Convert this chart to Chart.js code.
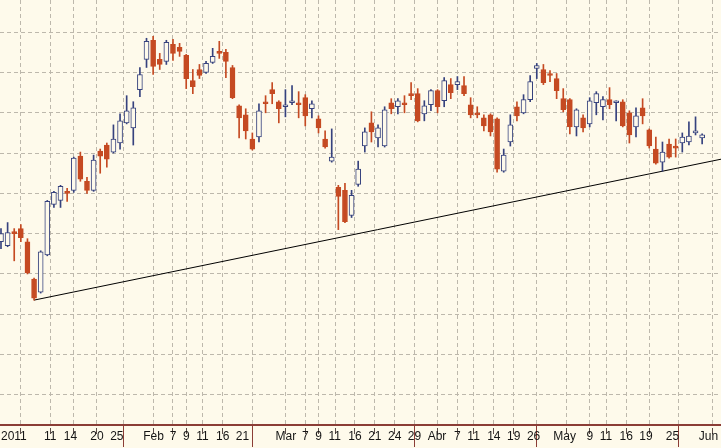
<!DOCTYPE html>
<html>
<head>
<meta charset="utf-8">
<script src="https://cdn.jsdelivr.net/npm/chart.js@4.4.1/dist/chart.umd.min.js"></script>
<style>
  html, body { margin: 0; padding: 0; background: #fefaeb; }
  canvas { display: block; }
</style>
</head>
<body>
<canvas id="stockChart" width="721" height="448"></canvas>
<script>
// daily candles, 3 Jan 2011 -> 2 Jun 2011
const openPrice = [
  8.72, 8.68, 8.81, 8.85, 8.72, 8.35, 8.22, 8.59, 9.09, 9.13,
  9.21, 9.23, 9.57, 9.32, 9.23, 9.62, 9.68, 9.61, 9.70, 9.90,
  9.85, 10.23, 10.53, 10.72, 10.53, 10.51, 10.68, 10.65, 10.57, 10.32,
  10.43, 10.40, 10.50, 10.61, 10.60, 10.45, 10.07, 9.98, 9.74, 9.76,
  10.10, 10.23, 10.11, 10.06, 10.10, 10.10, 10.15, 10.04, 9.94, 9.74,
  9.52, 9.26, 9.23, 8.98, 9.29, 9.67, 9.90, 9.75, 9.67, 10.10,
  10.06, 10.09, 10.18, 10.19, 9.99, 10.08, 10.22, 10.12, 10.28, 10.28,
  10.27, 10.08, 9.99, 9.95, 9.98, 9.94, 9.42, 9.71, 10.06, 10.00,
  10.13, 10.44, 10.43, 10.38, 10.34, 10.14, 10.13, 9.86, 9.95, 9.89,
  10.10, 10.06, 10.13, 10.10, 10.11, 10.00, 9.86, 10.05, 9.83, 9.64,
  9.51, 9.69, 9.66, 9.70, 9.71, 9.80, 9.75
];
const highPrice = [
  8.85, 8.91, 8.85, 8.89, 8.75, 8.36, 8.63, 9.13, 9.22, 9.28,
  9.25, 9.56, 9.61, 9.36, 9.58, 9.64, 9.70, 9.88, 9.99, 10.17,
  10.11, 10.45, 10.74, 10.76, 10.59, 10.72, 10.73, 10.69, 10.58, 10.43,
  10.48, 10.51, 10.64, 10.71, 10.63, 10.47, 10.08, 10.04, 9.80, 10.09,
  10.17, 10.30, 10.12, 10.23, 10.27, 10.21, 10.18, 10.12, 9.97, 9.82,
  9.84, 9.28, 9.30, 9.23, 9.52, 9.85, 10.01, 9.88, 10.06, 10.14,
  10.14, 10.17, 10.30, 10.24, 10.12, 10.23, 10.23, 10.35, 10.34, 10.36,
  10.36, 10.15, 10.06, 9.98, 9.99, 9.95, 9.64, 9.98, 10.11, 10.18,
  10.37, 10.49, 10.48, 10.42, 10.39, 10.24, 10.14, 10.04, 9.98, 10.15,
  10.21, 10.16, 10.25, 10.12, 10.13, 10.02, 10.05, 10.14, 9.84, 9.76,
  9.71, 9.74, 9.74, 9.80, 9.91, 9.96, 9.79
];
const lowPrice = [
  8.65, 8.67, 8.53, 8.72, 8.40, 8.14, 8.21, 8.58, 9.06, 9.06,
  9.12, 9.21, 9.32, 9.20, 9.22, 9.40, 9.46, 9.60, 9.64, 9.89,
  9.68, 10.16, 10.45, 10.38, 10.43, 10.48, 10.52, 10.56, 10.24, 10.19,
  10.34, 10.39, 10.49, 10.54, 10.35, 10.14, 9.75, 9.74, 9.63, 9.71,
  10.00, 10.09, 9.90, 9.96, 10.08, 9.95, 9.87, 9.95, 9.80, 9.65,
  9.51, 8.84, 8.91, 8.96, 9.27, 9.61, 9.71, 9.66, 9.66, 9.99,
  9.99, 10.00, 10.13, 9.91, 9.92, 10.02, 10.00, 10.06, 10.14, 10.23,
  10.17, 9.95, 9.95, 9.82, 9.77, 9.41, 9.41, 9.67, 9.92, 9.99,
  10.11, 10.34, 10.28, 10.31, 10.14, 10.01, 9.79, 9.77, 9.81, 9.86,
  9.98, 9.93, 10.04, 9.92, 9.86, 9.70, 9.76, 9.89, 9.65, 9.49,
  9.42, 9.55, 9.56, 9.61, 9.68, 9.78, 9.69
];
const closePrice = [
  8.80, 8.81, 8.80, 8.76, 8.41, 8.16, 8.62, 9.12, 9.21, 9.27,
  9.20, 9.55, 9.34, 9.23, 9.53, 9.57, 9.54, 9.74, 9.92, 10.02,
  10.05, 10.38, 10.71, 10.46, 10.48, 10.70, 10.59, 10.61, 10.34, 10.26,
  10.37, 10.49, 10.56, 10.59, 10.51, 10.15, 9.95, 9.82, 9.64, 10.02,
  10.09, 10.19, 10.04, 10.08, 10.11, 10.08, 9.97, 10.09, 9.85, 9.66,
  9.56, 9.17, 8.92, 9.18, 9.44, 9.81, 9.81, 9.85, 10.03, 10.04,
  10.12, 10.08, 10.17, 9.92, 10.07, 10.22, 10.06, 10.32, 10.20, 10.31,
  10.19, 9.98, 9.98, 9.87, 9.81, 9.44, 9.58, 9.88, 9.97, 10.13,
  10.31, 10.47, 10.30, 10.37, 10.22, 10.03, 9.86, 10.03, 9.85, 10.12,
  10.19, 10.13, 10.08, 10.11, 9.87, 9.78, 9.97, 9.97, 9.67, 9.50,
  9.61, 9.56, 9.65, 9.76, 9.77, 9.81, 9.78
];

// x axis: candle index of each labelled day, and its text
const tickIndex = [0, 6, 9, 13, 16, 21, 25, 27, 29, 32, 35, 41, 45, 47, 49, 52, 55, 58, 61,
                   64, 68, 70, 73, 76, 79, 83, 88, 90, 93, 96, 100, 105];
const tickText = ["2011", "11", "14", "20", "25", "Feb", "7", "9", "11", "16", "21",
                  "Mar", "7", "9", "11", "16", "21", "24", "29",
                  "Abr", "7", "11", "14", "19", "26", "May", "9", "11", "16", "19", "25", "Jun"];
const monthText = ["Feb", "Mar", "Abr", "May", "Jun"];

// horizontal grid levels
const gridLevels = [7.2, 7.6, 8.0, 8.4, 8.8, 9.2, 9.6, 10.0, 10.4, 10.8];

// support line drawn through the lows of these two candles
const trendFrom = 5;
const trendTo = 100;

const upColor = "#36427e";
const downColor = "#c54a22";
const paper = "#fefaeb";
const gridColor = "#bdb8ac";
const axisColor = "#8b3d36";

const xMin = -0.15;
const xMax = 108.85;

const isUp = (i) => closePrice[i] >= openPrice[i];

const bodies = openPrice.map((o, i) => ({ x: i, y: [o, closePrice[i]] }));
const wicks = lowPrice.map((l, i) => ({ x: i, y: [l, highPrice[i]] }));

const slope = (lowPrice[trendTo] - lowPrice[trendFrom]) / (trendTo - trendFrom);
const trend = [
    { x: trendFrom, y: lowPrice[trendFrom] },
    { x: xMax, y: lowPrice[trendFrom] + slope * (xMax - trendFrom) },
];

const isMonth = (ctx) => {
    const k = tickIndex.indexOf(ctx.tick ? ctx.tick.value : -1);
    return k >= 0 && monthText.includes(tickText[k]);
};

let ctx = document.getElementById("stockChart").getContext("2d");

window.stockChart = new Chart(ctx, {
    type: "bar",
    data: {
        datasets: [
            {
                type: "line",
                data: trend,
                borderColor: "#000000",
                borderWidth: 1,
                pointRadius: 0,
                order: 3,
            },
            {
                data: wicks,
                backgroundColor: wicks.map((d, i) => (isUp(i) ? upColor : downColor)),
                borderWidth: 0,
                barThickness: 1,
                grouped: false,
                order: 2,
            },
            {
                data: bodies,
                backgroundColor: bodies.map((d, i) => (isUp(i) ? paper : downColor)),
                borderColor: bodies.map((d, i) => (isUp(i) ? upColor : downColor)),
                borderWidth: 1,
                borderSkipped: false,
                barThickness: 5,
                minBarLength: 2,
                grouped: false,
                order: 1,
            },
        ],
    },
    options: {
        responsive: false,
        animation: false,
        devicePixelRatio: 1,
        layout: { padding: 0 },
        scales: {
            x: {
                type: "linear",
                min: xMin,
                max: xMax,
                offset: false,
                afterBuildTicks: (scale) => {
                    scale.ticks = tickIndex.map((v) => ({ value: v }));
                },
                afterFit: (scale) => {
                    scale.height = 23;
                },
                ticks: {
                    autoSkip: false,
                    maxRotation: 0,
                    minRotation: 0,
                    align: "start",
                    padding: -18,
                    color: "#151515",
                    font: { family: "'Liberation Sans', Arial, sans-serif", size: 12 },
                    callback: (value) => {
                        const t = tickText[tickIndex.indexOf(value)];
                        return value === 0 ? t : " " + t;
                    },
                },
                grid: {
                    color: gridColor,
                    lineWidth: 1,
                    drawTicks: true,
                    tickLength: 22,
                    tickWidth: 1,
                    tickColor: (c) => (c.tick && c.tick.value === 0 ? "rgba(0,0,0,0)" : isMonth(c) ? axisColor : "#5a4c48"),
                    tickBorderDash: (c) => (isMonth(c) ? [] : [0, 2, 6, 100]),
                },
                border: {
                    display: true,
                    color: axisColor,
                    width: 2,
                    dash: [4, 3],
                },
            },
            y: {
                type: "linear",
                min: 6.9,
                max: 11.12,
                afterBuildTicks: (scale) => {
                    scale.ticks = gridLevels.map((v) => ({ value: v }));
                },
                afterFit: (scale) => {
                    scale.width = 0;
                },
                ticks: { display: false },
                grid: {
                    color: gridColor,
                    lineWidth: 1,
                    drawTicks: false,
                },
                border: {
                    display: false,
                    dash: [4, 3],
                },
            },
        },
        plugins: {
            legend: { display: false },
            tooltip: { enabled: false },
            title: { display: false },
        },
    },
});
</script>
</body>
</html>
